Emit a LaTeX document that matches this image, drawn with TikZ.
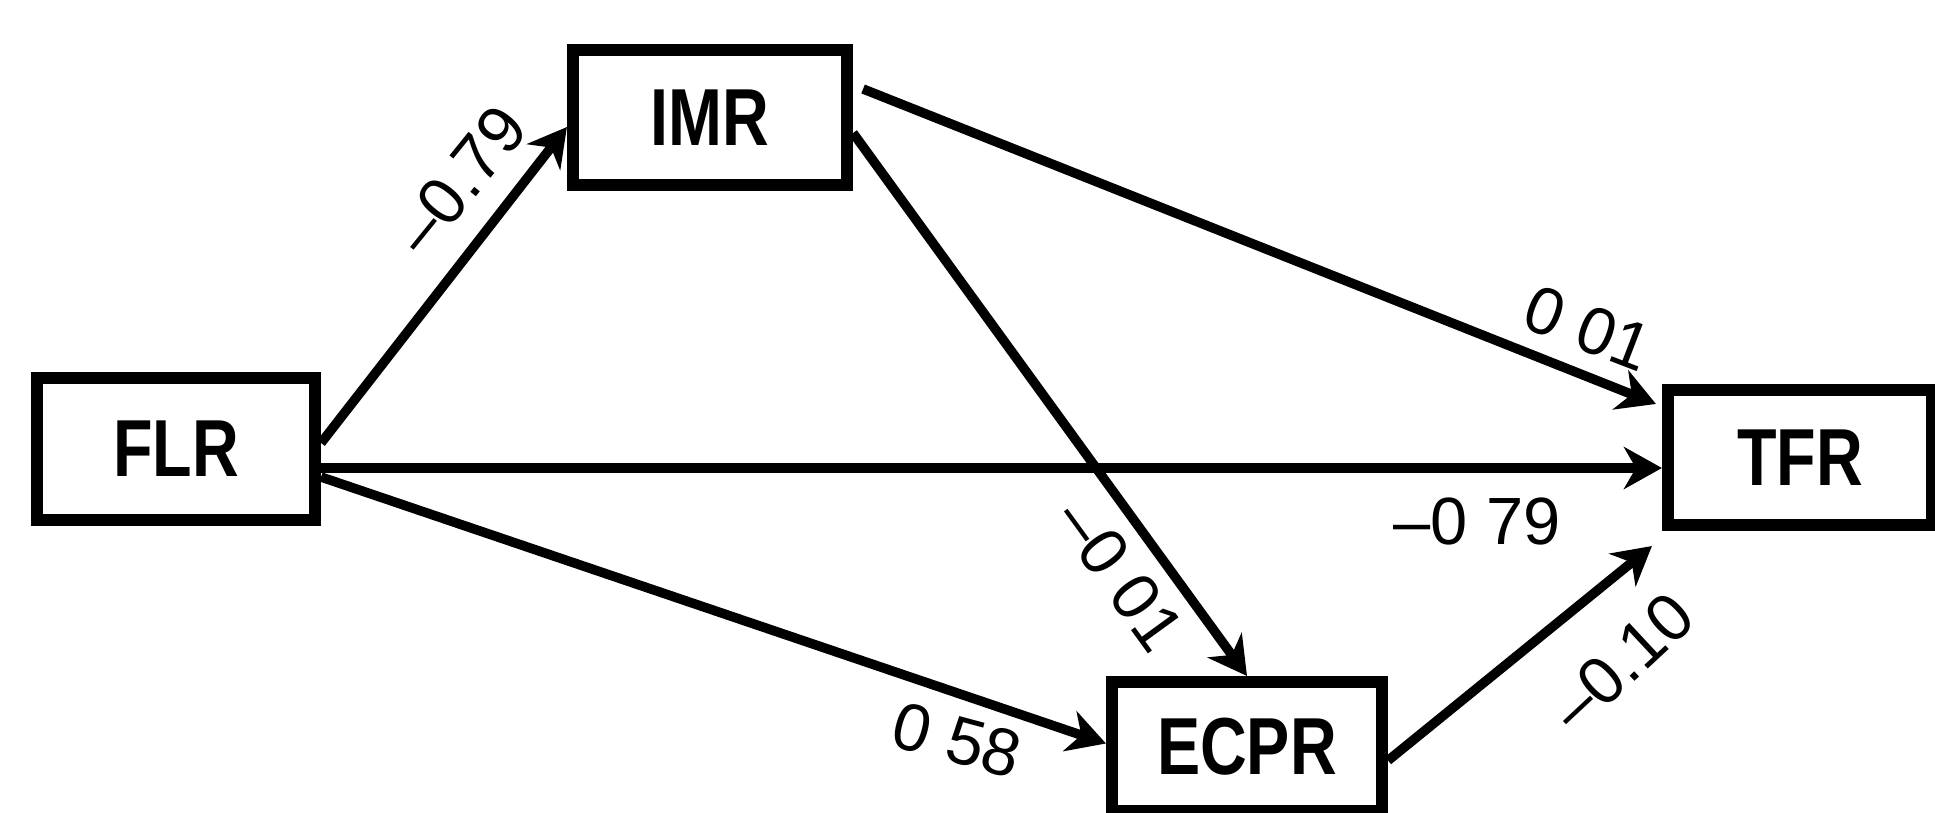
\documentclass[tikz,border=0pt]{standalone}
\usepackage{fontspec}
\setmainfont{Liberation Sans}
\usetikzlibrary{arrows.meta}
\tikzset{
 box/.style={draw, line width=3.4pt, inner sep=0pt, font=\fontsize{23}{23}\selectfont\bfseries},
 conn/.style={line width=2.7pt, -{Stealth[length=0.38cm,width=0.42cm,inset=0.12cm]}},
 lab/.style={font=\fontsize{19}{19}\selectfont, inner sep=0pt}
}
\begin{document}
\begin{tikzpicture}[x=0.01cm,y=-0.01cm]
\useasboundingbox (0,0) rectangle (1935,813);
\node[box, minimum width=2.78cm, minimum height=1.42cm] (FLR) at (176,449) {\scalebox{0.8}[1]{FLR}};
\node[box, minimum width=2.74cm, minimum height=1.35cm] (IMR) at (710,117.5) {\scalebox{0.8}[1]{IMR}};
\node[box, minimum width=2.64cm, minimum height=1.35cm] (TFR) at (1800,457.5) {\scalebox{0.8}[1]{TFR}};
\node[box, minimum width=2.70cm, minimum height=1.29cm] (ECPR) at (1247,746.5) {\scalebox{0.8}[1]{ECPR}};

\draw[conn] ([yshift=0.06cm]FLR.east) -- ([yshift=-0.095cm]IMR.west);
\draw[conn] ([yshift=-0.19cm]FLR.east) -- ([yshift=-0.19cm]FLR.east -| TFR.west);
\draw[conn] ([yshift=-0.28cm]FLR.east) -- ([yshift=0.03cm]ECPR.west);
\draw[conn] ([xshift=0.1cm,yshift=0.285cm]IMR.east) -- ([xshift=-0.06cm,yshift=0.535cm]TFR.west);
\draw[conn] ([yshift=-0.155cm]IMR.east) -- (ECPR.north);
\draw[conn] ([yshift=-0.14cm]ECPR.east) -- ([xshift=-0.1cm,yshift=-0.15cm]TFR.south west);

\node[lab, rotate=51] (l1) at (460,180) {–0.79};
\node[lab, rotate=-21] (l2) at (1588,328) {0 01};
\node[lab] (l3) at (1477,522) {–0 79};
\node[lab, rotate=-54] (l4) at (1120,575) {–0 01};
\node[lab, rotate=-15] (l5) at (957,740) {0 58};
\node[lab, rotate=43] (l6) at (1622,662) {–0.10};
\end{tikzpicture}
\end{document}
